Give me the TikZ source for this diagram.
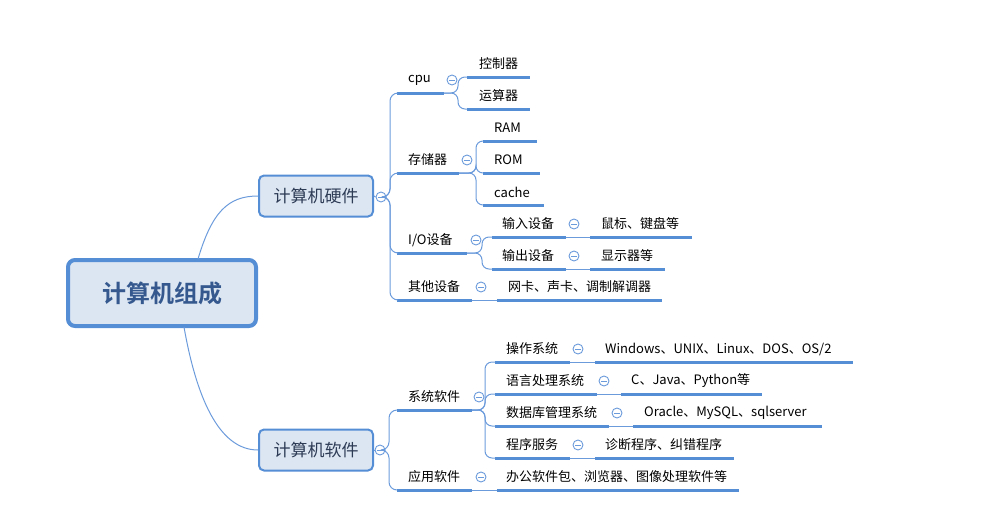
\documentclass[tikz,border=0pt]{standalone}
\usepackage{fontspec}
\setmainfont{Noto Sans CJK SC}[BoldFont={Noto Sans CJK SC Bold}]
\definecolor{mmblue}{HTML}{558ED5}
\definecolor{mmthin}{HTML}{6C9BDC}
\definecolor{mmfill}{HTML}{DCE6F2}
\definecolor{roottext}{HTML}{35598F}
\definecolor{subtext}{HTML}{2D3B55}
\newcommand{\mmtopic}[6]{%
  \node[lbl] (#1) at (#2,#3) {#4};
  \coordinate (#1L) at (#5,#3+13);
  \coordinate (#1R) at (#6,#3+13);
  \draw[ul] (#1L) -- (#1R);}
\newcommand{\mmcol}[3]{\node[col] (#1) at (#2,#3) {};}
\begin{document}
\begin{tikzpicture}[x=1pt,y=-1pt,
  lbl/.style={anchor=west,inner sep=0pt,font=\fontsize{13}{13}\selectfont,text=black},
  ul/.style={draw=mmblue,line width=3pt},
  conn/.style={draw=mmthin,line width=1pt},
  col/.style={circle,draw=mmthin,fill=white,line width=0.9pt,minimum size=10pt,inner sep=0pt,
    path picture={\draw[mmthin,line width=0.9pt] ([xshift=-2.6pt]path picture bounding box.center) -- ([xshift=2.6pt]path picture bounding box.center);}},
  rootbox/.style={draw=mmblue,fill=mmfill,line width=4pt,rounded corners=7pt,minimum width=188pt,minimum height=66pt,text=roottext,font=\fontsize{24}{24}\selectfont\bfseries},
  subbox/.style={draw=mmblue,fill=mmfill,line width=2pt,rounded corners=5pt,minimum width=114pt,minimum height=41pt,text=subtext,font=\fontsize{17}{17}\selectfont}
]
\useasboundingbox (0,0) rectangle (983,507);
% main nodes
\node[rootbox] (root) at (162,293) {计算机组成};
\node[subbox] (hw) at (316,196) {计算机硬件};
\node[subbox] (sw) at (316,450) {计算机软件};
\coordinate (rootT) at (198,259);
\coordinate (rootB) at (184,327);
\draw[conn] (rootT) .. controls (212,212) and (228,196) .. (hw.west);
\draw[conn] (rootB) .. controls (196,395) and (218,450) .. (sw.west);
\mmcol{hwC}{381}{197}
\mmcol{swC}{380}{450}
\draw[conn] (hw.east) -- (hwC.west);
\draw[conn] (sw.east) -- (swC.west);

% ---------- hardware ----------
\mmtopic{cpu}{408}{80}{cpu}{397}{444}
\mmtopic{mem}{408}{160}{存储器}{397}{459}
\mmtopic{io}{408}{240}{I/O设备}{397}{467}
\mmtopic{oth}{408}{287}{其他设备}{397}{472}
\foreach \t in {cpu,mem,io,oth}
  \draw[conn,rounded corners=8pt] (hwC.east) -- (390,197) |- (\t L);

\mmtopic{ctl}{479}{64}{控制器}{467}{530}
\mmtopic{alu}{479}{96}{运算器}{467}{530}
\mmcol{cpuC}{452}{80}
\foreach \t in {ctl,alu}
  \draw[conn,rounded corners=7pt] (cpuR) -- (458,93) |- (\t L);

\mmtopic{ram}{494}{128}{RAM}{483}{537}
\mmtopic{rom}{494}{160}{ROM}{483}{540}
\mmtopic{cache}{494}{192}{cache}{483}{544}
\mmcol{memC}{467}{160}
\foreach \t in {ram,rom,cache}
  \draw[conn,rounded corners=7pt] (memR) -- (476,173) |- (\t L);

\mmtopic{in}{502}{224}{输入设备}{492}{566}
\mmtopic{out}{502}{256}{输出设备}{492}{566}
\mmcol{ioC}{476}{240}
\foreach \t in {in,out}
  \draw[conn,rounded corners=7pt] (ioR) -- (482,253) |- (\t L);

\mmtopic{inx}{601}{224}{鼠标、键盘等}{590}{692}
\mmcol{inC}{574}{224}
\draw[conn] (inR) -- (inxL);
\mmtopic{outx}{601}{256}{显示器等}{590}{665}
\mmcol{outC}{574}{256}
\draw[conn] (outR) -- (outxL);

\mmtopic{othx}{508}{287}{网卡、声卡、调制解调器}{497}{662}
\mmcol{othC}{481}{287}
\draw[conn] (othR) -- (othxL);

% ---------- software ----------
\mmtopic{sys}{408}{397}{系统软件}{397}{472}
\mmtopic{app}{408}{477}{应用软件}{397}{472}
\foreach \t in {sys,app}
  \draw[conn,rounded corners=8pt] (swC.east) -- (389,450) |- (\t L);

\mmtopic{os}{506}{349}{操作系统}{495}{570}
\mmtopic{lang}{506}{381}{语言处理系统}{495}{597}
\mmtopic{db}{506}{413}{数据库管理系统}{495}{609}
\mmtopic{svc}{506}{445}{程序服务}{495}{570}
\mmcol{sysC}{479}{397}
\foreach \t in {os,lang,db,svc}
  \draw[conn,rounded corners=7pt] (sysR) -- (485,410) |- (\t L);

\mmtopic{osx}{605}{349}{Windows、UNIX、Linux、DOS、OS/2}{595}{853}
\mmcol{osC}{578}{349}
\draw[conn] (osR) -- (osxL);
\mmtopic{langx}{631}{381}{C、Java、Python等}{621}{762}
\mmcol{langC}{604}{381}
\draw[conn] (langR) -- (langxL);
\mmtopic{dbx}{644}{413}{Oracle、MySQL、sqlserver}{633}{822}
\mmcol{dbC}{617}{413}
\draw[conn] (dbR) -- (dbxL);
\mmtopic{svcx}{605}{445}{诊断程序、纠错程序}{595}{734}
\mmcol{svcC}{578}{445}
\draw[conn] (svcR) -- (svcxL);

\mmtopic{appx}{506}{477}{办公软件包、浏览器、图像处理软件等}{497}{739}
\mmcol{appC}{481}{477}
\draw[conn] (appR) -- (appxL);
\end{tikzpicture}
\end{document}
